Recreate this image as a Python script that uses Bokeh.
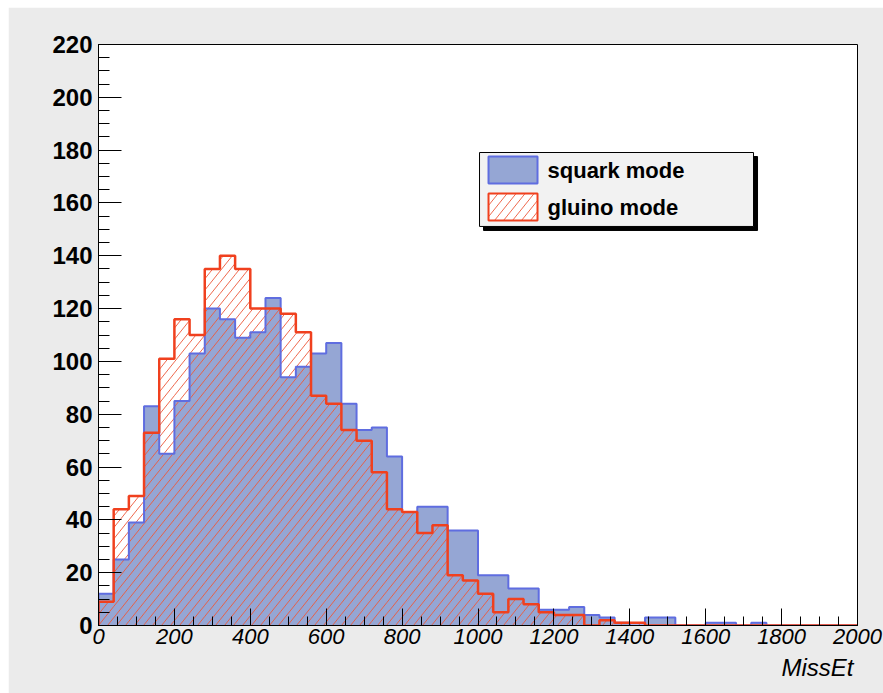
from bokeh.plotting import figure
from bokeh.models import Range1d, FixedTicker, Title
from bokeh.core.properties import value
from bokeh.embed import file_html
from bokeh.resources import INLINE

# MissEt histogram, 50 bins of width 40 between 0 and 2000
bin_lo = 0
bin_hi = 2000
n_bins = 50

squark_counts = [12, 25, 39, 83, 65, 85, 103, 120, 116, 109,
                 111, 124, 94, 98, 103, 107, 84, 74, 75, 64,
                 43, 45, 45, 36, 36, 19, 19, 14, 14, 6,
                 6, 7, 4, 3, 1, 0, 3, 3, 0, 0,
                 1, 1, 0, 1, 0, 0, 0, 0, 0, 0]

gluino_counts = [9, 44, 49, 73, 101, 116, 110, 135, 140, 135,
                 120, 120, 118, 111, 87, 84, 74, 70, 58, 44,
                 43, 35, 38, 19, 17, 12, 5, 10, 8, 5,
                 4, 4, 0, 2, 1, 1, 0, 0, 0, 0,
                 0, 0, 0, 0, 0, 0, 0, 0, 0, 0]

series_names = ["squark mode", "gluino mode"]
x_ticks = list(range(0, 2001, 200))
x_minor = list(range(0, 2001, 50))
y_ticks = list(range(0, 221, 20))
y_minor = list(range(0, 221, 5))

FONT = "Liberation Sans"
BLUE_FILL = "#95a6d4"
BLUE_LINE = "#5f6de0"
RED = "#f0401e"
HATCH = "#ec5a3c"
PANEL = "#ebebeb"

Y_MAX = 220
FRAME_W, FRAME_H = 759, 581
px_x = (bin_hi - bin_lo) / FRAME_W   # data units per pixel along x
px_y = Y_MAX / FRAME_H               # data units per pixel along y

# hatch geometry: lines rising to the right, 9 px apart horizontally
HATCH_SLOPE_PX = 1.25
HATCH_STEP_PX = 9
k = HATCH_SLOPE_PX * px_y / px_x     # slope in data units
hatch_step = HATCH_STEP_PX * px_x


def step_outline(counts):
    """Closed step path of a histogram: (lo,0) -> bin tops -> (hi,0)."""
    w = (bin_hi - bin_lo) / n_bins
    xs, ys = [bin_lo], [0]
    for i, c in enumerate(counts):
        xs += [bin_lo + i * w, bin_lo + (i + 1) * w]
        ys += [c, c]
    xs.append(bin_hi)
    ys.append(0)
    return xs, ys


def hatch_segments(rects):
    """Diagonal hatch lines clipped to a list of (left, right, bottom, top) boxes."""
    x0s, y0s, x1s, y1s = [], [], [], []
    for a, b, lo, hi in rects:
        if hi <= lo:
            continue
        # line family: y - lo = k * (x - c)
        c = bin_lo - (Y_MAX / k) - hatch_step
        c = c - ((c - bin_lo) % hatch_step)
        while c < b:
            xs = max(a, c)
            xe = min(b, c + (hi - lo) / k)
            if xe > xs:
                x0s.append(xs)
                y0s.append(lo + k * (xs - c))
                x1s.append(xe)
                y1s.append(lo + k * (xe - c))
            c += hatch_step
    return x0s, y0s, x1s, y1s


p = figure(width=875, height=686, output_backend="svg", toolbar_location=None,
           x_range=Range1d(bin_lo, bin_hi), y_range=Range1d(0, Y_MAX),
           min_border_left=90, min_border_right=26,
           min_border_top=37, min_border_bottom=68)
p.margin = (7, 0, 0, 8)
p.background_fill_color = "white"
p.border_fill_color = PANEL
p.outline_line_color = "black"
p.outline_line_width = 1
p.xgrid.visible = False
p.ygrid.visible = False

w = (bin_hi - bin_lo) / n_bins

# squark mode: solid blue histogram
sx, sy = step_outline(squark_counts)
p.patch(sx, sy, fill_color=BLUE_FILL, line_color=None)

# gluino mode: red hatching
bins = [(bin_lo + i * w, bin_lo + (i + 1) * w, 0, c) for i, c in enumerate(gluino_counts)]
hx0, hy0, hx1, hy1 = hatch_segments(bins)
p.segment(hx0, hy0, hx1, hy1, line_color=HATCH, line_width=1, line_alpha=0.9)

p.line(sx, sy, line_color=BLUE_LINE, line_width=2)
gx, gy = step_outline(gluino_counts)
p.line(gx, gy, line_color=RED, line_width=2.5)

# axes in ROOT style: ticks pointing into the frame
xa = p.xaxis[0]
xa.ticker = FixedTicker(ticks=x_ticks, minor_ticks=x_minor)
xa.major_tick_in = 17
xa.major_tick_out = 0
xa.minor_tick_in = 9
xa.minor_tick_out = 0
xa.major_label_standoff = 3
xa.major_label_text_font = FONT
xa.major_label_text_font_style = "italic"
xa.major_label_text_font_size = "22px"
xa.major_label_text_color = "black"
xa.axis_line_color = "black"
xa.major_tick_line_color = "black"
xa.minor_tick_line_color = "black"

ya = p.yaxis[0]
ya.ticker = FixedTicker(ticks=y_ticks, minor_ticks=y_minor)
ya.major_tick_in = 23
ya.major_tick_out = 0
ya.minor_tick_in = 11
ya.minor_tick_out = 0
ya.major_label_standoff = 6
ya.major_label_text_font = FONT
ya.major_label_text_font_style = "bold"
ya.major_label_text_font_size = "24px"
ya.major_label_text_color = "black"
ya.axis_line_color = "black"
ya.major_tick_line_color = "black"
ya.minor_tick_line_color = "black"

# x-axis title, right-aligned under the axis
p.add_layout(Title(text="MissEt", align="right", offset=4, standoff=11,
                   text_font=FONT, text_font_style="italic",
                   text_font_size="24px", text_color="black"), "below")

# legend box with a drop shadow
box_l, box_r = 1004, 1726
box_t, box_b = 179.1, 151.1
p.quad(left=[box_l + 4 * px_x], right=[box_r + 4 * px_x],
       top=[box_t - 4 * px_y], bottom=[box_b - 4 * px_y],
       fill_color="black", line_color="black")
p.quad(left=[box_l], right=[box_r], top=[box_t], bottom=[box_b],
       fill_color="#f2f2f2", line_color="black", line_width=1)

sw_l, sw_r = box_l + 9 * px_x, box_l + 58 * px_x
rows = [(box_t - 4 * px_y, box_t - 31 * px_y), (box_t - 41 * px_y, box_t - 68 * px_y)]
p.quad(left=[sw_l], right=[sw_r], top=[rows[0][0]], bottom=[rows[0][1]],
       fill_color=BLUE_FILL, line_color=BLUE_LINE, line_width=2)
p.quad(left=[sw_l], right=[sw_r], top=[rows[1][0]], bottom=[rows[1][1]],
       fill_color="white", line_color=None)
lx0, ly0, lx1, ly1 = hatch_segments([(sw_l, sw_r, rows[1][1], rows[1][0])])
p.segment(lx0, ly0, lx1, ly1, line_color=HATCH, line_width=1, line_alpha=0.9)
p.quad(left=[sw_l], right=[sw_r], top=[rows[1][0]], bottom=[rows[1][1]],
       fill_color=None, line_color=RED, line_width=2)

p.text(x=[sw_r + 10 * px_x] * 2, y=[(t + b) / 2 for t, b in rows], text=series_names,
       text_align="left", text_baseline="middle", text_font=value(FONT),
       text_font_style="bold", text_font_size="22px", text_color="black")

open("out.html", "w").write(file_html(p, INLINE))
